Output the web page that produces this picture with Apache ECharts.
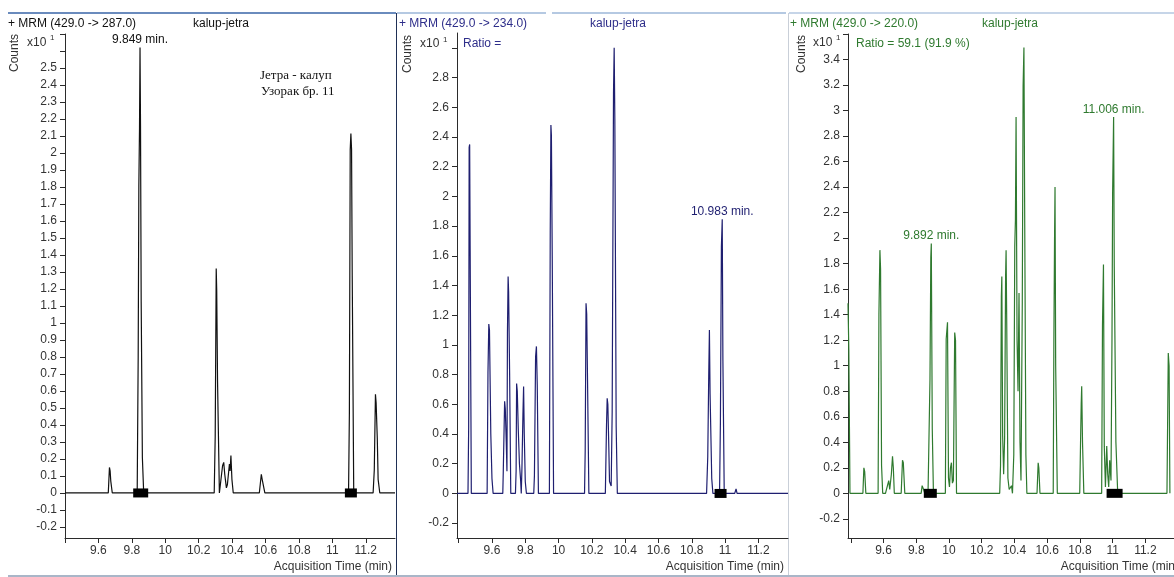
<!DOCTYPE html>
<html>
<head>
<meta charset="utf-8">
<script src="https://cdn.jsdelivr.net/npm/echarts@6/dist/echarts.min.js"></script>
<style>
  html, body { margin: 0; padding: 0; background: #fff; overflow: hidden; }
  #chart { width: 1174px; height: 577px; }
</style>
</head>
<body>
<div id="chart"></div>
<script>
// x axis (acquisition time, min)
var xTicks = [9.4, 9.6, 9.8, 10, 10.2, 10.4, 10.6, 10.8, 11, 11.2];
var xLabels = [9.6, 9.8, 10, 10.2, 10.4, 10.6, 10.8, 11, 11.2];

// y ticks / labels (counts x10^1)
var leftTicksY = [-0.2, -0.1, 0, 0.1, 0.2, 0.3, 0.4, 0.5, 0.6, 0.7, 0.8, 0.9, 1, 1.1, 1.2, 1.3, 1.4, 1.5, 1.6, 1.7, 1.8, 1.9, 2, 2.1, 2.2, 2.3, 2.4, 2.5, 2.6, 2.7];
var leftLabelsY = [-0.2, -0.1, 0, 0.1, 0.2, 0.3, 0.4, 0.5, 0.6, 0.7, 0.8, 0.9, 1, 1.1, 1.2, 1.3, 1.4, 1.5, 1.6, 1.7, 1.8, 1.9, 2, 2.1, 2.2, 2.3, 2.4, 2.5];
var midTicksY = [-0.2, 0, 0.2, 0.4, 0.6, 0.8, 1, 1.2, 1.4, 1.6, 1.8, 2, 2.2, 2.4, 2.6, 2.8, 3];
var midLabelsY = [-0.2, 0, 0.2, 0.4, 0.6, 0.8, 1, 1.2, 1.4, 1.6, 1.8, 2, 2.2, 2.4, 2.6, 2.8];
var rightTicksY = [-0.2, 0, 0.2, 0.4, 0.6, 0.8, 1, 1.2, 1.4, 1.6, 1.8, 2, 2.2, 2.4, 2.6, 2.8, 3, 3.2, 3.4, 3.6];
var rightLabelsY = [-0.2, 0, 0.2, 0.4, 0.6, 0.8, 1, 1.2, 1.4, 1.6, 1.8, 2, 2.2, 2.4, 2.6, 2.8, 3, 3.2, 3.4];

// MRM 429.0 -> 287.0
var leftTrace = [
    [9.4, 0],
    [9.659, 0], [9.666, 0.15], [9.670, 0.13], [9.674, 0.07], [9.683, 0],
    [9.832, 0], [9.838, 0.8], [9.842, 1.81], [9.846, 2.15], [9.849, 2.62], [9.852, 2.15], [9.856, 1.12], [9.863, 0.21], [9.871, 0],
    [10.293, 0], [10.299, 0.335], [10.305, 1.32], [10.308, 1.19], [10.313, 0.655], [10.324, 0],
    [10.335, 0], [10.343, 0.16], [10.350, 0.18], [10.356, 0.11], [10.366, 0.03], [10.372, 0.05], [10.384, 0.17], [10.388, 0.13], [10.393, 0.22], [10.399, 0.08], [10.407, 0],
    [10.563, 0], [10.575, 0.11], [10.580, 0.08], [10.596, 0],
    [11.097, 0], [11.102, 0.47], [11.107, 2.02], [11.111, 2.115], [11.115, 2.02], [11.119, 1.276], [11.128, 0],
    [11.244, 0], [11.251, 0.135], [11.258, 0.58], [11.262, 0.53], [11.269, 0.32], [11.274, 0.08], [11.284, 0],
    [11.375, 0]
];
var leftMarks = [[9.853, 0], [11.111, 0]];
var leftPeak = [[9.849, 2.62]];
var leftPeakText = ['9.849 min.'];

// MRM 429.0 -> 234.0
var midTrace = [
    [9.39, 0],
    [9.456, 0], [9.460, 0.44], [9.463, 2.33], [9.466, 2.35], [9.469, 1.64], [9.476, 0],
    [9.571, 0], [9.576, 0.81], [9.581, 1.14], [9.585, 1.10], [9.593, 0.4], [9.600, 0.1], [9.607, 0],
    [9.665, 0], [9.668, 0.15], [9.676, 0.62], [9.680, 0.57], [9.686, 0.34], [9.690, 0.15], [9.693, 1.08], [9.697, 1.46], [9.700, 1.36], [9.706, 0.81], [9.713, 0],
    [9.741, 0], [9.745, 0.15], [9.748, 0.74], [9.752, 0.69], [9.758, 0.43], [9.765, 0.2], [9.772, 0.09], [9.776, 0], [9.780, 0.17], [9.786, 0.53], [9.790, 0.72], [9.794, 0.4], [9.800, 0.08], [9.807, 0],
    [9.851, 0], [9.855, 0.12], [9.862, 0.92], [9.867, 0.99], [9.872, 0.73], [9.879, 0],
    [9.945, 0], [9.950, 1.76], [9.954, 2.48], [9.957, 2.41], [9.962, 1.59], [9.970, 0],
    [10.156, 0], [10.160, 0.29], [10.165, 1.28], [10.169, 1.21], [10.174, 0.76], [10.182, 0],
    [10.281, 0], [10.288, 0.46], [10.292, 0.64], [10.296, 0.6], [10.302, 0.3], [10.306, 0.08], [10.316, 0.05], [10.322, 0.55], [10.330, 2.70], [10.334, 3.0], [10.338, 2.52], [10.346, 0.45], [10.353, 0],
    [10.889, 0], [10.896, 0.245], [10.902, 0.8], [10.906, 1.10], [10.910, 0.67], [10.920, 0.1], [10.927, 0],
    [10.967, 0], [10.972, 0.48], [10.978, 1.66], [10.983, 1.846], [10.987, 0.9], [10.995, 0],
    [11.058, 0], [11.066, 0.03], [11.072, 0],
    [11.378, 0]
];
var midMarks = [[10.973, 0]];
var midPeak = [[10.983, 1.846]];
var midPeakText = ['10.983 min.'];

// MRM 429.0 -> 220.0
var rightTrace = [
    [9.383, 1.49], [9.388, 1.13], [9.395, 0],
    [9.474, 0], [9.480, 0.2], [9.485, 0.17], [9.492, 0],
    [9.567, 0], [9.572, 1.41], [9.578, 1.906], [9.582, 1.76], [9.588, 0.22], [9.595, 0],
    [9.612, 0], [9.626, 0.07], [9.632, 0.1], [9.638, 0.03], [9.648, 0.15], [9.655, 0.29], [9.660, 0.2], [9.666, 0],
    [9.708, 0], [9.716, 0.26], [9.721, 0.24], [9.730, 0],
    [9.830, 0], [9.836, 0.06], [9.845, 0.03], [9.852, 0],
    [9.872, 0], [9.884, 0.9], [9.889, 1.85], [9.892, 1.958], [9.898, 0.5], [9.905, 0],
    [9.978, 0], [9.983, 1.21], [9.991, 1.34], [9.997, 0.12], [10.003, 0.05], [10.009, 0.2], [10.015, 0.24], [10.021, 0.08], [10.027, 0.1], [10.035, 1.26], [10.040, 1.2], [10.046, 0],
    [10.310, 0], [10.315, 0.22], [10.320, 1.54], [10.323, 1.70], [10.328, 0.45], [10.334, 0.15], [10.340, 0.43], [10.346, 1.70], [10.349, 1.906], [10.353, 1.32], [10.360, 0.12], [10.368, 0.03], [10.382, 0.06], [10.388, 0],
    [10.396, 0.3], [10.402, 1.94], [10.406, 2.14], [10.410, 2.95], [10.416, 1.2], [10.422, 0.8], [10.428, 1.57], [10.434, 0.4], [10.440, 0.1], [10.448, 1.5], [10.453, 3.19], [10.458, 3.495], [10.463, 2.09], [10.470, 0.3], [10.476, 0],
    [10.538, 0], [10.545, 0.24], [10.549, 0.2], [10.556, 0],
    [10.637, 0], [10.641, 1.2], [10.645, 1.976], [10.648, 2.40], [10.652, 1.0], [10.662, 0],
    [10.799, 0], [10.804, 0.4], [10.808, 0.7], [10.811, 0.84], [10.816, 0.4], [10.824, 0],
    [10.933, 0], [10.938, 1.32], [10.944, 1.794], [10.949, 0.37], [10.956, 0.05], [10.964, 0.37], [10.970, 0.15], [10.976, 0.05], [10.982, 0.26], [10.990, 0.1], [10.996, 1.2], [11.000, 2.36], [11.006, 2.95], [11.010, 1.775], [11.020, 0.4], [11.031, 0],
    [11.332, 0], [11.340, 1.1], [11.345, 1.0], [11.350, 0]
];
var rightMarks = [[9.886, 0], [11.012, 0]];
var rightPeak = [[9.892, 1.958], [11.006, 2.95]];
var rightPeakText = ['9.892 min.', '11.006 min.'];

var FONT = 'Liberation Sans';
var axisColor = '#2b2b2b';

function makeX(idx, min, max) {
    return {
        type: 'value', gridIndex: idx, min: min, max: max,
        axisLine: {onZero: false, lineStyle: {color: axisColor}},
        axisTick: {length: 5, customValues: xTicks, lineStyle: {color: axisColor}},
        axisLabel: {customValues: xLabels, color: '#333', fontFamily: FONT, fontSize: 12, margin: 7},
        splitLine: {show: false}
    };
}

function makeY(idx, min, max, ticks, labels) {
    return {
        type: 'value', gridIndex: idx, min: min, max: max,
        axisLine: {show: true, onZero: false, lineStyle: {color: axisColor}},
        axisTick: {show: true, length: 5, customValues: ticks, lineStyle: {color: axisColor}},
        axisLabel: {customValues: labels, color: '#333', fontFamily: FONT, fontSize: 12, margin: 8},
        splitLine: {show: false}
    };
}

function makeTrace(idx, data, color, peaks, texts) {
    return {
        type: 'line', xAxisIndex: idx, yAxisIndex: idx, z: 2,
        data: data, showSymbol: false, symbol: 'none', animation: false,
        lineStyle: {color: color, width: 1.2},
        markPoint: {
            symbol: 'rect', symbolSize: 1,
            itemStyle: {color: 'rgba(0,0,0,0)'},
            label: {show: true, position: 'top', distance: 1, color: color,
                fontFamily: FONT, fontSize: 12, formatter: '{b}'},
            data: peaks.map(function (p, i) { return {name: texts[i], coord: p}; })
        }
    };
}

function makeMarks(idx, data, widths) {
    return {
        type: 'scatter', xAxisIndex: idx, yAxisIndex: idx, data: data, z: 5,
        symbol: 'rect', animation: false,
        symbolSize: function (v, p) { return [widths[p.dataIndex], 9]; },
        itemStyle: {color: '#000', opacity: 1}
    };
}

function txt(x, y, s, color, opts) {
    opts = opts || {};
    return {
        type: 'text', x: x, y: y, rotation: opts.rotation || 0,
        style: {
            text: s, fill: color,
            font: (opts.size || 12) + 'px "' + (opts.family || FONT) + '"',
            textAlign: opts.align || 'left', textVerticalAlign: 'middle'
        }
    };
}

function line(x1, y1, x2, y2, color, w) {
    return {type: 'line', shape: {x1: x1, y1: y1, x2: x2, y2: y2},
        style: {stroke: color, lineWidth: w || 1}, silent: true};
}

var chart = echarts.init(document.getElementById('chart'));

var blue = '#2e2e8a';
var green = '#2f7a2f';

var option = {
    animation: false,
    backgroundColor: '#fff',
    grid: [
        {left: 65, top: 34, width: 330, height: 504},
        {left: 457, top: 33, width: 331, height: 505},
        {left: 848, top: 34, width: 330, height: 504}
    ],
    xAxis: [makeX(0, 9.4, 11.375), makeX(1, 9.39, 11.378), makeX(2, 9.383, 11.375)],
    yAxis: [
        makeY(0, -0.265, 2.7, leftTicksY, leftLabelsY),
        makeY(1, -0.3, 3.1, midTicksY, midLabelsY),
        makeY(2, -0.35, 3.6, rightTicksY, rightLabelsY)
    ],
    series: [
        makeTrace(0, leftTrace, '#111', leftPeak, leftPeakText),
        makeMarks(0, leftMarks, [15, 12]),
        makeTrace(1, midTrace, '#1f1f70', midPeak, midPeakText),
        makeMarks(1, midMarks, [12]),
        makeTrace(2, rightTrace, green, rightPeak, rightPeakText),
        makeMarks(2, rightMarks, [13, 16])
    ],
    graphic: [
        // panel frames
        line(8, 13, 396, 13, '#6a8bbd', 2),
        line(397, 13, 546, 13, '#b5c9e2', 2),
        line(552, 13, 786, 13, '#b5c9e2', 2),
        line(789, 13, 1174, 13, '#c6d5e8', 2),
        line(396.5, 13, 396.5, 577, '#1f2f55', 1),
        line(788.5, 13, 788.5, 577, '#c9cfd8', 1),
        line(8, 576, 1174, 576, '#a9b6c8', 2),

        // left panel texts
        txt(8, 24, '+ MRM (429.0 -> 287.0)', '#111'),
        txt(193, 24, 'kalup-jetra', '#111'),
        txt(15, 53, 'Counts', '#333', {rotation: Math.PI / 2, align: 'center'}),
        txt(27, 43, 'x10', '#333'),
        txt(50, 38, '1', '#333', {size: 8}),
        txt(260, 76, 'Јетра - калуп', '#111', {family: 'Liberation Serif', size: 13}),
        txt(261, 92, 'Узорак бр. 11', '#111', {family: 'Liberation Serif', size: 13}),
        txt(392, 567, 'Acquisition Time (min)', '#333', {align: 'right'}),

        // middle panel texts
        txt(399, 24, '+ MRM (429.0 -> 234.0)', blue),
        txt(590, 24, 'kalup-jetra', blue),
        txt(408, 54, 'Counts', '#333', {rotation: Math.PI / 2, align: 'center'}),
        txt(420, 44, 'x10', '#333'),
        txt(443, 40, '1', '#333', {size: 8}),
        txt(463, 44, 'Ratio =', blue),
        txt(784, 567, 'Acquisition Time (min)', '#333', {align: 'right'}),

        // right panel texts
        txt(790, 24, '+ MRM (429.0 -> 220.0)', green),
        txt(982, 24, 'kalup-jetra', green),
        txt(802, 54, 'Counts', '#333', {rotation: Math.PI / 2, align: 'center'}),
        txt(813, 43, 'x10', '#333'),
        txt(836, 38, '1', '#333', {size: 8}),
        txt(856, 44, 'Ratio = 59.1 (91.9 %)', green),
        txt(1179, 567, 'Acquisition Time (min)', '#333', {align: 'right'})
    ]
};

chart.setOption(option);
</script>
</body>
</html>
